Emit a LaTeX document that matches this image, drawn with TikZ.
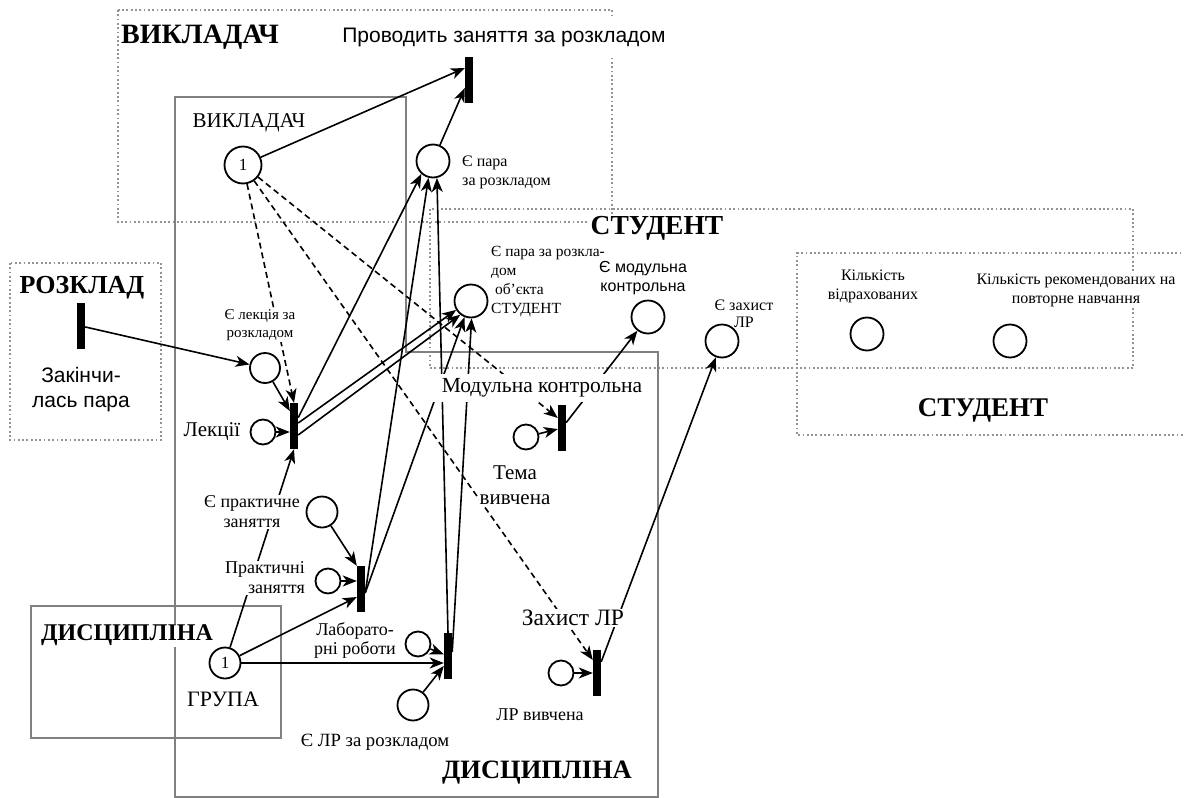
\documentclass[tikz,border=0pt]{standalone}
\usepackage{fontspec}
\setmainfont{Liberation Serif}
\setsansfont{Liberation Sans}
\usetikzlibrary{arrows.meta,backgrounds}
\tikzset{>={Stealth[length=14pt,width=11pt,inset=4pt]},
  plc/.style={circle,draw,fill=white,line width=1.8pt,minimum size=33pt,inner sep=0pt,font=\fontsize{17}{19}\selectfont},
  splc/.style={plc,minimum size=25pt},
  trbar/.style={rectangle,fill=black,minimum width=8pt,minimum height=46pt,inner sep=0pt},
  lbl/.style={fill=white,inner sep=1pt,align=center,font=\fontsize{16}{19}\selectfont},
  midlbl/.style={lbl,font=\fontsize{18}{20}\selectfont},
  biglbl/.style={lbl,font=\fontsize{21}{25}\selectfont},
  heading/.style={lbl,font=\fontsize{26}{30}\selectfont\bfseries},
  sanslbl/.style={lbl,font=\fontsize{16}{19}\selectfont\sffamily},
  flow/.style={->,line width=1.6pt},
  inhib/.style={flow,dash pattern=on 6pt off 4pt},
  dotbox/.style={draw=gray!85,line width=1.8pt,dash pattern=on 1.8pt off 2.5pt},
  greybox/.style={draw=gray,line width=2.2pt}}

\begin{document}
\begin{tikzpicture}[x=1pt,y=-1pt]
\useasboundingbox (0,0) rectangle (1184,798);

\node[heading,font=\fontsize{28}{32}\selectfont\bfseries] (hVykl) at (200,37) {ВИКЛАДАЧ};
\node[sanslbl,font=\fontsize{21}{24}\selectfont\sffamily,inner ysep=9pt] (lProv) at (504,37) {Проводить заняття за розкладом};
\node[biglbl] (lVykl) at (249,123) {ВИКЛАДАЧ};
\node[lbl,anchor=west,align=left] (lPara) at (461,172) {Є пара\\за розкладом};
\node[heading] (hRozk) at (82,288) {РОЗКЛАД};
\node[sanslbl,font=\fontsize{21}{25}\selectfont\sffamily] (lKin) at (81,390) {Закінчи-\\лась пара};
\node[lbl,font=\fontsize{15}{18}\selectfont] (lLekR) at (260,325) {Є лекція за\\розкладом};
\node[heading,font=\fontsize{27.5}{31}\selectfont\bfseries] (hStud) at (657,228) {СТУДЕНТ};
\node[lbl,anchor=west,align=left,font=\fontsize{15.5}{19}\selectfont] (lStud) at (490,282) {Є пара за розкла-\\дом\\\ об’єкта\\СТУДЕНТ};
\node[sanslbl] (lModul) at (643,278) {Є модульна\\контрольна};
\node[lbl,font=\fontsize{16}{17}\selectfont] (lZakh) at (744,314) {Є захист\\ЛР};
\node[lbl] (lVidr) at (873,286) {Кількість\\відрахованих};
\node[lbl] (lPovt) at (1076,290) {Кількість рекомендованих на\\повторне навчання};
\node[heading,font=\fontsize{27}{31}\selectfont\bfseries] (hStud2) at (983,410) {СТУДЕНТ};
\node[biglbl,font=\fontsize{21.5}{25}\selectfont,inner xsep=14pt,inner ysep=5pt] (lMod) at (542,388) {Модульна контрольна};
\node[biglbl] (lLek) at (212,432) {Лекції};
\node[midlbl] (lPrakR) at (252,512) {Є практичне\\заняття};
\node[midlbl,anchor=east,align=right] (lPrak) at (306,578) {Практичні\\заняття};
\node[heading,font=\fontsize{24}{28}\selectfont\bfseries] (hDysc) at (127,635) {ДИСЦИПЛІНА};
\node[biglbl,font=\fontsize{22}{25}\selectfont] (lGrupa) at (223,699) {ГРУПА};
\node[midlbl,inner sep=0.5pt,font=\fontsize{18}{19}\selectfont] (lLab) at (355,640) {Лаборато-\\рні роботи};
\node[midlbl,font=\fontsize{18.7}{20}\selectfont] (lLabR) at (375,742) {Є ЛР за розкладом};
\node[biglbl] (lTema) at (515,485) {Тема\\вивчена};
\node[biglbl,font=\fontsize{23.5}{26}\selectfont] (lZakhLR) at (573,618) {Захист ЛР};
\node[midlbl] (lLRv) at (540,715) {ЛР вивчена};
\node[heading,font=\fontsize{26.5}{30}\selectfont\bfseries] (hDysc2) at (537,773) {ДИСЦИПЛІНА};

\node[plc,minimum size=37pt] (pV) at (243,165) {1};
\node[plc] (pPara) at (433,161) {};
\node[plc] (pStud) at (471,301) {};
\node[plc] (pModul) at (648,317) {};
\node[plc] (pZakh) at (722,341) {};
\node[plc] (pVidr) at (867,334) {};
\node[plc] (pPovt) at (1010,341) {};
\node[plc,minimum size=30pt] (pLekR) at (265,368) {};
\node[splc] (pLek) at (263,432) {};
\node[plc,minimum size=31pt] (pPrakR) at (322,512) {};
\node[splc] (pPrak) at (328,581) {};
\node[plc,minimum size=31pt] (pGrupa) at (225,663) {1};
\node[splc] (pLab) at (418,644) {};
\node[plc,minimum size=31pt] (pLabR) at (413,705) {};
\node[splc] (pTema) at (526,437) {};
\node[splc] (pLRv) at (561,673) {};

\node[trbar] (tProv) at (469,80) {};
\node[trbar] (tRozk) at (81,326) {};
\node[trbar] (tLek) at (294,426) {};
\node[trbar] (tPrak) at (361,589) {};
\node[trbar] (tLab) at (448,656) {};
\node[trbar] (tModul) at (562,428) {};
\node[trbar] (tZakh) at (597,673) {};

\begin{pgfonlayer}{background}
\draw[dotbox] (118,10) rectangle (612,222);
\draw[dotbox] (430,209) rectangle (1133,368);
\draw[dotbox] (1190,253) -- (797,253) -- (797,435) -- (1190,435);
\draw[dotbox] (10,263) rectangle (161,440);
\draw[greybox] (175,797) -- (175,97) -- (406,97) -- (406,352) -- (658,352) -- (658,797) -- cycle;
\draw[greybox] (31,606) rectangle (281,738);

\draw[flow] (pV) -- ([yshift=12pt]tProv.west);
\draw[flow] (pPara) -- ([yshift=-8pt]tProv.west);
\draw[flow] (tRozk) -- (pLekR);
\draw[flow] (pLekR) -- ([yshift=15pt]tLek.west);
\draw[flow] (pLek) -- ([yshift=-6pt]tLek.west);
\draw[flow] (pGrupa) -- (tLek.south);
\draw[flow] (tLek) -- (pPara.228);
\draw[flow] (tLek) -- (pStud.211);
\draw[flow] ([yshift=-9pt]tLek.east) -- (pStud.232);
\draw[flow] (pPrakR) -- (tPrak.north west);
\draw[flow] (pPrak) -- ([yshift=8pt]tPrak.west);
\draw[flow] (pGrupa) -- ([yshift=-8pt]tPrak.west);
\draw[flow] ([yshift=-4pt]tPrak.east) -- (pPara.255);
\draw[flow] ([yshift=-4pt]tPrak.east) -- (pStud.248);
\draw[flow] (tLab.north) -- (pPara.283);
\draw[flow] ([yshift=4pt]tLab.east) -- (pStud.272);
\draw[flow] (pLab) -- (tLab);
\draw[flow] (pLabR) -- ([yshift=-10pt]tLab.west);
\draw[flow] (pGrupa) -- ([yshift=-7pt]tLab.west);
\draw[flow] (pTema) -- (tModul);
\draw[flow] (tModul) -- (pModul);
\draw[flow] (pLRv) -- (tZakh);
\draw[flow] (tZakh) -- (pZakh);
\draw[inhib] (pV) -- (tLek.north);
\draw[inhib] (pV) -- ([yshift=10pt]tModul.west);
\draw[inhib] (pV) -- ([yshift=13pt]tZakh.west);
\end{pgfonlayer}
\end{tikzpicture}
\end{document}
